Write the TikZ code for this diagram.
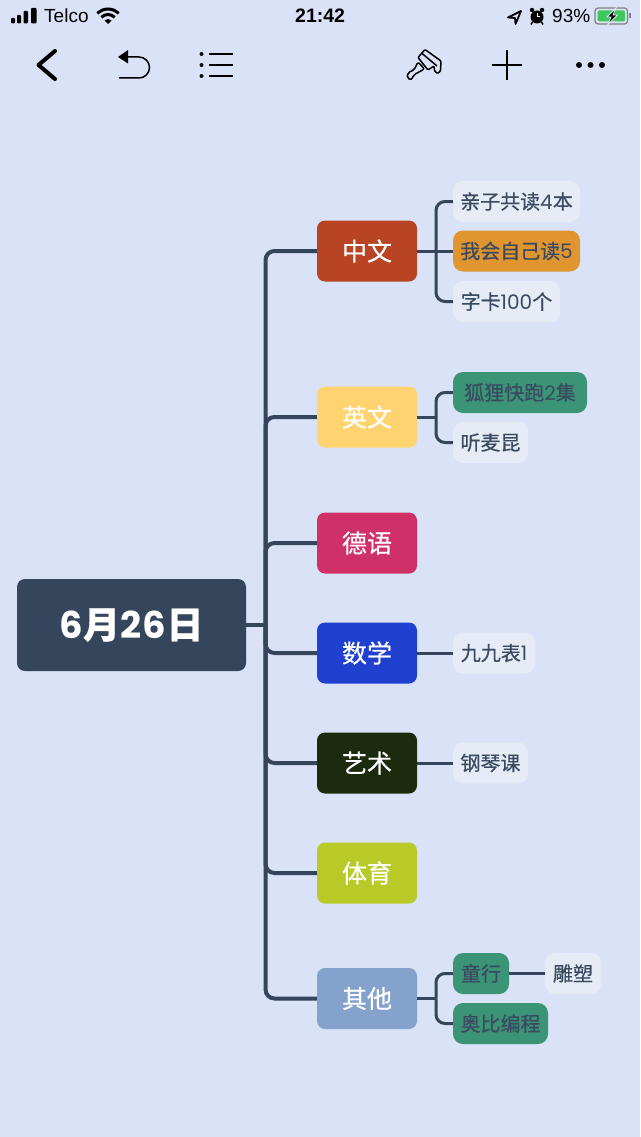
\documentclass[tikz,border=0pt]{standalone}
\usepackage{fontspec}
\setmainfont{Noto Sans CJK SC}
\newfontfamily\statusfont{Liberation Sans}
\newfontfamily\rootfont[LetterSpace=5]{Poppins}
\newfontfamily\digitfont{Poppins}
\newfontfamily\medfont[FakeBold=0.5]{Noto Sans CJK SC}
\definecolor{pagebg}{HTML}{D9E2F6}
\definecolor{slate}{HTML}{34455C}
\definecolor{leafbg}{HTML}{E6ECF5}
\definecolor{leaftext}{HTML}{3A4A60}
\definecolor{orangebg}{HTML}{E0952F}
\definecolor{greenbg}{HTML}{3A9475}
\definecolor{batterygreen}{HTML}{3CC85A}
\definecolor{cred}{HTML}{B94423}
\definecolor{cyellow}{HTML}{FFD470}
\definecolor{cpink}{HTML}{D03068}
\definecolor{cblue}{HTML}{2040D0}
\definecolor{cdark}{HTML}{1C2A0E}
\definecolor{clime}{HTML}{B8CA28}
\definecolor{csteel}{HTML}{85A2CC}
\tikzset{
  subject/.style={rounded corners=8pt, minimum width=100pt, minimum height=61pt, inner sep=0pt, text=white, font=\medfont\fontsize{25}{28}\selectfont},
  leaf/.style={rounded corners=10pt, minimum height=41pt, inner sep=0pt, fill=leafbg, text=leaftext, font=\medfont\fontsize{20}{24}\selectfont},
  trunkline/.style={draw=slate, line width=4pt, rounded corners=9pt},
  twigline/.style={draw=slate, line width=3pt, rounded corners=9pt},
  iconline/.style={draw=black, line width=1.5pt},
  statustext/.style={inner sep=0pt, anchor=base west, font=\statusfont\fontsize{19}{21}\selectfont}
}
\begin{document}
\begin{tikzpicture}[x=1pt, y=-1pt]
    \useasboundingbox (0, 0) rectangle (640, 1137);
    \fill[pagebg] (0, 0) rectangle (640, 1137);

    % status bar
    \foreach \xa/\xb/\ya in {11/15/18, 17/21/15, 23.5/28/11, 31/36.5/8}
      \fill[rounded corners=1pt] (\xa, \ya) rectangle (\xb, 23.5);
    \node[statustext] (telco) at (44, 23) {Telco};
    \draw[line width=3pt] (97.4, 13.4) arc[start angle=-135, end angle=-45, radius=15];
    \draw[line width=3pt] (101.3, 17.3) arc[start angle=-135, end angle=-45, radius=9.5];
    \fill (108, 24) -- (104.5, 20.5) arc[start angle=-135, end angle=-45, radius=5] -- cycle;
    \node[statustext, font=\statusfont\bfseries\fontsize{19.5}{21}\selectfont] (clock) at (295, 23) {21:42};
    \draw[line width=1.8pt, line join=round] (521, 11) -- (508, 17.5) -- (515, 18) -- (515.5, 24) -- cycle;
    \fill (537, 17) circle (6.5);
    \fill (532, 10) circle (2.2);
    \fill (542, 10) circle (2.2);
    \draw[white, line width=1pt] (537, 13) -- (537, 17) -- (540, 17);
    \draw[line width=1.5pt] (532.5, 22) -- (531, 24.5);
    \draw[line width=1.5pt] (541.5, 22) -- (543, 24.5);
    \node[statustext] (battery) at (552, 23) {93\%};
    \draw[gray, line width=1.2pt, rounded corners=3pt] (595, 8) rectangle (627.5, 24);
    \fill[batterygreen, rounded corners=1.5pt] (597.5, 10.5) rectangle (625, 21.5);
    \fill[gray] (629, 13.5) rectangle (630.5, 18.5);
    \filldraw[draw=leafbg, line width=0.8pt] (616, 8) -- (607, 17) -- (611, 17) -- (608, 24.5) -- (617.5, 15) -- (613, 15) -- cycle;

    % toolbar
    \draw[iconline, line width=4pt, line cap=round, line join=round] (55, 51) -- (38.5, 65) -- (55, 79);
    \fill (118, 57) -- (128, 50) -- (128, 63.5) -- cycle;
    \draw[iconline] (127, 57) -- (139, 57) arc[start angle=-90, end angle=90, radius=10.5] -- (119, 78);
    \foreach \ya in {54, 65, 76} {
      \fill (201.5, \ya) circle (2);
      \draw[iconline] (209, \ya) -- (233, \ya);
    }
    \draw[iconline, line join=round, rounded corners=1pt] (425, 49.5) -- (441, 61) -- (440.5, 71) -- (437.5, 73.5) -- (434.5, 71) -- (434, 66) -- (428, 70) -- (418, 57.5) -- cycle;
    \draw[iconline, line join=round, rounded corners=2pt] (418, 62) -- (424.5, 69) -- (413.5, 75) -- (411.5, 80) -- (407, 78) -- (408, 72.5) -- (414, 70) -- cycle;
    \draw[iconline] (421.5, 53) -- (437, 66);
    \draw[iconline] (492, 65) -- (522, 65);
    \draw[iconline] (507, 50) -- (507, 80);
    \foreach \xa in {579, 590.5, 602}
      \fill (\xa, 65) circle (3);

    % mind map nodes
    \node[rounded corners=8pt, fill=slate, text=white, minimum width=229pt, minimum height=92pt, inner sep=0pt] (root) at (131.5, 625) {\fontsize{37}{40}\selectfont\rootfont\bfseries 6\medfont 月\rootfont\bfseries 26\medfont 日};

    \node[subject, fill=cred] (chinese) at (367, 251) {中文};
    \node[subject, fill=cyellow] (english) at (367, 417) {英文};
    \node[subject, fill=cpink] (german) at (367, 543) {德语};
    \node[subject, fill=cblue] (maths) at (367, 653) {数学};
    \node[subject, fill=cdark] (arts) at (367, 763) {艺术};
    \node[subject, fill=clime] (sports) at (367, 873) {体育};
    \node[subject, fill=csteel] (others) at (367, 998.5) {其他};

    \node[leaf, minimum width=127pt] (readtogether) at (516.5, 201.5) {亲子共读{\digitfont 4}本};
    \node[leaf, minimum width=127pt, fill=orangebg] (readalone) at (516.5, 251) {我会自己读{\digitfont 5}};
    \node[leaf, minimum width=107pt] (cards) at (506.5, 301.5) {字卡{\digitfont 100}个};
    \node[leaf, minimum width=134pt, fill=greenbg] (fox) at (520, 392.5) {狐狸快跑{\digitfont 2}集};
    \node[leaf, minimum width=75pt] (mcqueen) at (490.5, 442.5) {听麦昆};
    \node[leaf, minimum width=82pt] (times) at (494, 653) {九九表{\digitfont 1}};
    \node[leaf, minimum width=75pt] (piano) at (490.5, 763) {钢琴课};
    \node[leaf, minimum width=56pt, fill=greenbg] (theatre) at (481, 973.5) {童行};
    \node[leaf, minimum width=56pt] (sculpture) at (573, 973.5) {雕塑};
    \node[leaf, minimum width=95pt, fill=greenbg] (coding) at (500.5, 1023.5) {奥比编程};

    % forks
    \coordinate (trunk) at (265.5, 625);
    \coordinate (chinesefork) at (436, 251);
    \coordinate (englishfork) at (436, 417);
    \coordinate (othersfork) at (436, 998.5);

    % branches
    \draw[trunkline] (root.east) -- (trunk);
    \draw[trunkline] (trunk) |- (chinese.west);
    \draw[trunkline] (trunk) |- (english.west);
    \draw[trunkline] (trunk) |- (german.west);
    \draw[trunkline] (trunk) |- (maths.west);
    \draw[trunkline] (trunk) |- (arts.west);
    \draw[trunkline] (trunk) |- (sports.west);
    \draw[trunkline] (trunk) |- (others.west);

    \draw[twigline] (chinese.east) -- (readalone.west);
    \draw[twigline] (chinesefork) |- (readtogether.west);
    \draw[twigline] (chinesefork) |- (cards.west);
    \draw[twigline] (english.east) -- (englishfork);
    \draw[twigline] (englishfork) |- (fox.west);
    \draw[twigline] (englishfork) |- (mcqueen.west);
    \draw[twigline] (maths.east) -- (times.west);
    \draw[twigline] (arts.east) -- (piano.west);
    \draw[twigline] (others.east) -- (othersfork);
    \draw[twigline] (othersfork) |- (theatre.west);
    \draw[twigline] (othersfork) |- (coding.west);
    \draw[twigline] (theatre.east) -- (sculpture.west);
  \end{tikzpicture}
\end{document}
